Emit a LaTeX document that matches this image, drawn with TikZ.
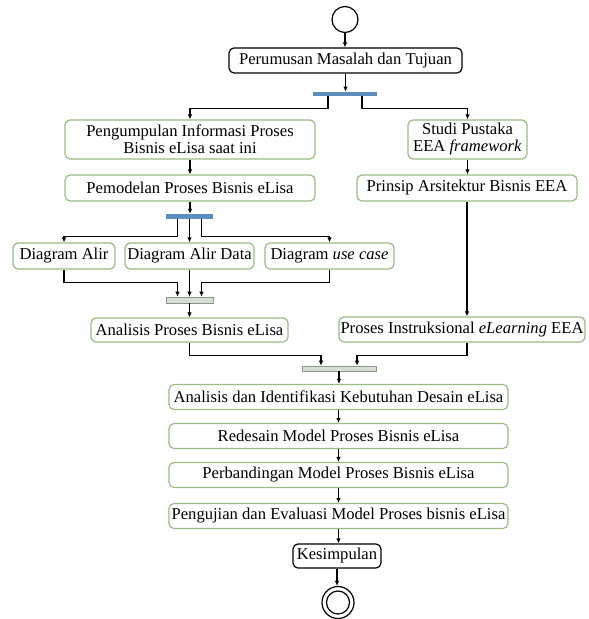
\documentclass[tikz,border=0pt]{standalone}
\usepackage{fontspec}
\setmainfont{Liberation Serif}
\usetikzlibrary{arrows.meta,positioning,calc}
\definecolor{boxgreen}{HTML}{9BBB85}
\definecolor{forkblue}{HTML}{5B8DBE}
\definecolor{joinfill}{HTML}{D5DFD2}
\definecolor{joinline}{HTML}{8A9488}
\tikzset{
  gbox/.style={draw=boxgreen,line width=1.2pt,rounded corners=5pt,fill=white,inner sep=1pt,align=center,font=\fontsize{16.6}{17}\selectfont},
  kbox/.style={draw=black,line width=1.2pt,rounded corners=5pt,fill=white,inner sep=1pt,align=center,font=\fontsize{16.6}{17}\selectfont},
  forkbar/.style={fill=forkblue,draw=none,inner sep=0pt},
  joinbar/.style={fill=joinfill,draw=joinline,line width=0.6pt,inner sep=0pt},
  arr/.style={draw=black,line width=1.1pt,-{Latex[length=5pt,width=4.5pt]}},
}
\begin{document}
\begin{tikzpicture}[x=1pt,y=-1pt]
\path[fill=white] (0,0) rectangle (589,619);
\useasboundingbox (0,0) rectangle (589,619);
% nodes
\node[circle,draw=black,line width=1.2pt,minimum size=26pt,inner sep=0pt] (start) at (345,19.5) {};
\node[kbox,minimum width=233pt,minimum height=25pt] (perumusan) at (345.5,60.5) {Perumusan Masalah dan Tujuan};
\node[forkbar,minimum width=64pt,minimum height=4.5pt] (fork1) at (345,94) {};
\node[gbox,minimum width=250pt,minimum height=39pt] (pengumpulan) at (190,139.5) {Pengumpulan Informasi Proses\\Bisnis eLisa saat ini};
\node[gbox,minimum width=119pt,minimum height=39pt] (studi) at (467.5,139.5) {Studi Pustaka\\EEA \textit{framework}};
\node[gbox,minimum width=250pt,minimum height=26pt] (pemodelan) at (190,188) {Pemodelan Proses Bisnis eLisa};
\node[gbox,minimum width=220pt,minimum height=26pt] (prinsip) at (467,188) {Prinsip Arsitektur Bisnis EEA};
\node[forkbar,minimum width=47pt,minimum height=5pt] (fork2) at (189.5,216.5) {};
\node[gbox,minimum width=102pt,minimum height=26pt] (alir) at (64,256) {Diagram Alir};
\node[gbox,minimum width=129pt,minimum height=26pt] (alirdata) at (189.5,256) {Diagram Alir Data};
\node[gbox,minimum width=129pt,minimum height=26pt] (usecase) at (329.5,256) {Diagram \textit{use case}};
\node[joinbar,minimum width=47pt,minimum height=6pt] (join2) at (189.5,300) {};
\node[gbox,minimum width=197pt,minimum height=24pt] (analisis) at (189.5,330) {Analisis Proses Bisnis eLisa};
\node[gbox,minimum width=246pt,minimum height=25pt] (proses) at (462,329.5) {Proses Instruksional \textit{eLearning} EEA};
\node[joinbar,minimum width=74pt,minimum height=5pt] (join3) at (339,368.5) {};
\node[gbox,minimum width=339pt,minimum height=25pt] (analid) at (338.5,397) {Analisis dan Identifikasi Kebutuhan Desain eLisa};
\node[gbox,minimum width=339pt,minimum height=25pt] (redesain) at (338.5,436) {Redesain Model Proses Bisnis eLisa};
\node[gbox,minimum width=339pt,minimum height=25pt] (perbandingan) at (338.5,475) {Perbandingan Model Proses Bisnis eLisa};
\node[gbox,minimum width=339pt,minimum height=25pt] (pengujian) at (338.5,516) {Pengujian dan Evaluasi Model Proses bisnis eLisa};
\node[kbox,minimum width=88pt,minimum height=24pt] (kesimpulan) at (337,556) {Kesimpulan};
\node[circle,draw=black,line width=1.2pt,minimum size=32pt,inner sep=0pt] (end) at (338,602.5) {};
\node[circle,draw=black,line width=1.2pt,minimum size=23pt,inner sep=0pt] (endin) at (end.center) {};
% connectors
\draw[arr] (start.south) -- (start.south |- perumusan.north);
\draw[arr] (perumusan.south) -- (perumusan.south |- fork1.north);
\draw[arr] ([xshift=-17pt]fork1.south) -- ++(0,12) -| (pengumpulan.north);
\draw[arr] ([xshift=17pt]fork1.south) -- ++(0,12) -| (studi.north);
\draw[arr] (pengumpulan.south) -- (pemodelan.north);
\draw[arr] (studi.south) -- (studi.south |- prinsip.north);
\draw[arr] (pemodelan.south) -- (pemodelan.south |- fork2.north);
\draw[arr] ([xshift=-12pt]fork2.south) -- ++(0,17) -| (alir.north);
\draw[arr] (fork2.south) -- (fork2.south |- alirdata.north);
\draw[arr] ([xshift=12pt]fork2.south) -- ++(0,17) -| (usecase.north);
\draw[arr] (alir.south) -- ++(0,13) -| ([xshift=-12pt]join2.north);
\draw[arr] (alirdata.south) -- (alirdata.south |- join2.north);
\draw[arr] (usecase.south) -- ++(0,13) -| ([xshift=12pt]join2.north);
\draw[arr] (join2.south) -- (join2.south |- analisis.north);
\draw[arr] (prinsip.south) -- (prinsip.south |- proses.north);
\draw[arr] (analisis.south) -- ++(0,13) -| ([xshift=-18pt]join3.north);
\draw[arr] (proses.south -| prinsip.south) -- ++(0,13) -| ([xshift=18pt]join3.north);
\draw[arr] (join3.south) -- (join3.south |- analid.north);
\draw[arr] (analid.south) -- (analid.south |- redesain.north);
\draw[arr] (redesain.south) -- (redesain.south |- perbandingan.north);
\draw[arr] (perbandingan.south) -- (perbandingan.south |- pengujian.north);
\draw[arr] (pengujian.south) -- (pengujian.south |- kesimpulan.north);
\draw[arr] (kesimpulan.south) -- (kesimpulan.south |- end.north);
\end{tikzpicture}
\end{document}
